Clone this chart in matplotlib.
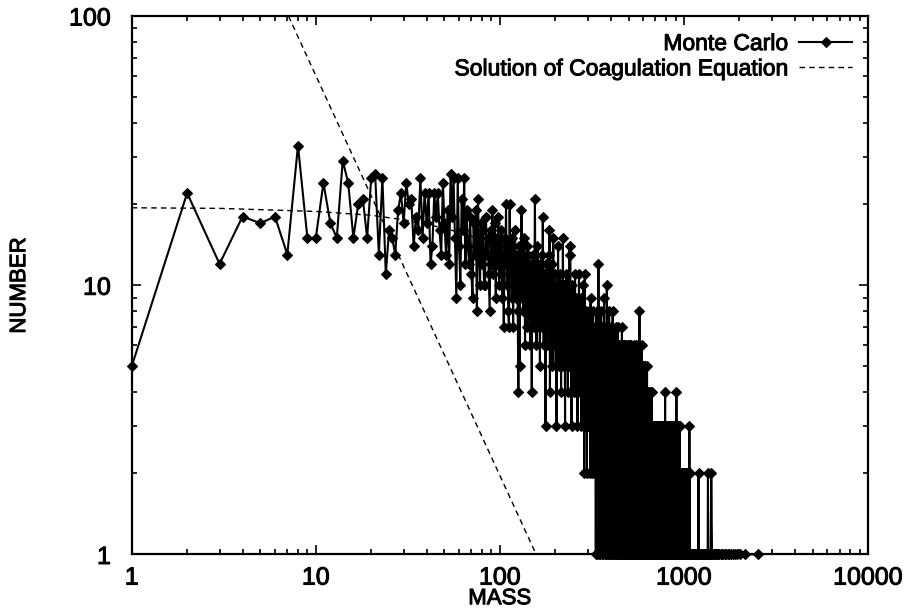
#!/usr/bin/env python3
"""
Mass spectrum of a Monte Carlo coagulation run against the
analytic solution of the coagulation equation (log-log).
"""

import numpy as np
import matplotlib
matplotlib.use('Agg')  # headless
import matplotlib.pyplot as plt
import matplotlib.ticker as ticker
import matplotlib.patheffects as pe

# Monte Carlo histogram: number of clusters for masses 1..390 (one entry per mass)
COUNTS_HEAD = [
    5, 22, 12, 18, 17, 18, 13, 33, 15, 15,
    24, 17, 15, 29, 24, 15, 20, 21, 15, 25,
    26, 13, 25, 11, 16, 15, 13, 19, 22, 17,
    24, 20, 21, 14, 18, 16, 25, 15, 22, 17,
    22, 12, 14, 22, 18, 22, 16, 13, 24, 17,
    13, 19, 12, 26, 18, 25, 15, 9, 25, 14,
    10, 21, 16, 25, 12, 19, 14, 12, 18, 11,
    9, 17, 13, 19, 8, 21, 14, 10, 17, 12,
    16, 10, 10, 18, 13, 15, 11, 8, 16, 12,
    19, 11, 14, 17, 9, 15, 12, 18, 10, 14,
    11, 16, 9, 13, 7, 15, 12, 20, 10, 14,
    8, 7, 20, 11, 13, 9, 15, 7, 12, 10,
    16, 9, 13, 11, 8, 4, 14, 5, 12, 10,
    19, 9, 13, 8, 15, 11, 6, 12, 9, 14,
    7, 11, 13, 8, 10, 6, 12, 9, 4, 11,
    8, 13, 7, 10, 21, 9, 12, 6, 10, 14,
    8, 11, 7, 9, 5, 12, 8, 10, 13, 7,
    18, 9, 6, 11, 8, 10, 3, 12, 7, 9,
    6, 11, 8, 13, 7, 16, 4, 9, 6, 10,
    8, 12, 5, 9, 15, 7, 10, 6, 8, 11,
    5, 9, 3, 7, 10, 6, 14, 8, 5, 9,
    7, 11, 6, 8, 4, 10, 7, 5, 9, 15,
    6, 8, 5, 10, 7, 3, 9, 6, 8, 11,
    5, 7, 9, 4, 8, 6, 10, 5, 14, 7,
    13, 6, 9, 4, 3, 8, 5, 10, 6, 7,
    9, 4, 6, 8, 5, 11, 7, 4, 9, 6,
    8, 5, 7, 3, 6, 9, 4, 7, 11, 5,
    8, 6, 4, 7, 9, 5, 3, 8, 6, 4,
    7, 5, 10, 6, 3, 8, 2, 4, 11, 6,
    7, 3, 5, 8, 4, 6, 2, 7, 5, 3,
    6, 4, 8, 5, 3, 7, 4, 6, 2, 5,
    9, 3, 6, 4, 7, 2, 5, 3, 6, 4,
    8, 3, 5, 2, 6, 4, 3, 7, 5, 2,
    4, 1, 6, 3, 8, 2, 5, 1, 7, 3,
    5, 2, 12, 4, 6, 1, 5, 3, 7, 2,
    4, 1, 6, 3, 8, 2, 5, 1, 4, 7,
    2, 5, 3, 1, 6, 4, 2, 9, 3, 5,
    1, 4, 2, 6, 3, 1, 5, 2, 7, 3,
    10, 2, 4, 1, 6, 3, 5, 1, 4, 2,
]

# masses 391..1400, one digit per mass, groups of ten; 0 = no cluster of that mass
TAIL_START = 391
TAIL_DIGITS = """
3816241372 6143725168 1352614253 1642713524 2615341726 1435162413 5216341527
2514361425 1362514236 4151326141 3524163526 1425314261 3152436142
5132414253 1426131524 2314516231 4132524136 1423152413 2481352142 3142531426 1352413215
3142513241 2314251324 1432413125 2314231423 1324132413
3213231432 1323213234 2131323213 3213132321 2313231312 3231312321 1323130213 2312313231
3132123103 2313213231 1321302312 3123132130 2313213021 3120313234 1302312130 2131203213
1302132031 3120213102 1302312013 2130213201 3021302130 1203120312 0213021302 1302103120
3120213021 0312031204 1302120310 2103120213 0120312021 3102102130
2120120212 1021201202 0120210120 2101202102 1202210120 1021021201 2010210120 0120102102
1201021020 2102010212 0210120122 1020120213
0101201010 1010010101 0100101001 1001010100 0101001010 1000101001 0100100101 0010100100
1001000101 0100100010 1000100100 0010010001 0100010002 1000100010 0010001000 1000010001
0001000100 0100001000 1000100001 0001000010 0100010000 1000001000 0010000100 0000100001
0001000010 0100000100 0001000001 0000100002 0000010000 1000000100 0000100000 0100000010
0000000100
"""

# sparse large clusters beyond mass 1400
FAR_MASS = [1407, 1421, 1438, 1452, 1469, 1490, 1512, 1530, 1557, 1581, 1604, 1633,
            1662, 1690, 1724, 1761, 1798, 1840, 1884, 1930, 2020, 2150, 2520]
FAR_COUNT = [2, 1, 1, 1, 1, 1, 1, 1, 1, 1, 1, 1,
             1, 1, 1, 1, 1, 1, 1, 1, 1, 1, 1]

# solution of the coagulation equation (two dashed curves)
SOL_MASS = [1, 3, 10, 20, 30, 50, 75, 100, 150, 200, 300, 400, 500, 700, 900]
SOL_NUMBER = [19.4, 19.3, 18.8, 18.2, 17.5, 16.3, 15.0, 13.6, 11.4, 9.6, 6.8, 4.8, 3.4, 1.7, 0.85]
POWER_MASS = [7.1, 157.5]
POWER_NUMBER = [100, 1]

XTICKS = [1, 10, 100, 1000, 10000]
XTICK_LABELS = ['1', '10', '100', '1000', '10000']
YTICKS = [1, 10, 100]
YTICK_LABELS = ['1', '10', '100']

# heavier strokes for the printed-looking lettering
INK = [pe.withStroke(linewidth=0.7, foreground='black')]


def monte_carlo_series():
    mass = list(range(1, len(COUNTS_HEAD) + 1))
    count = list(COUNTS_HEAD)
    digits = ''.join(TAIL_DIGITS.split())
    for i, ch in enumerate(digits):
        if ch != '0':
            mass.append(TAIL_START + i)
            count.append(int(ch))
    mass += FAR_MASS
    count += FAR_COUNT
    return np.array(mass), np.array(count)


def main():
    plt.rcParams['font.family'] = ['Liberation Sans', 'DejaVu Sans']
    fig = plt.figure(figsize=(9.06, 6.09), dpi=100)
    ax = fig.add_axes([0.1454, 0.0895, 0.8127, 0.8842])

    mass, count = monte_carlo_series()
    ax.plot(mass, count, color='black', linewidth=1.5, marker='D', markersize=5,
            markeredgewidth=0.8, label='Monte Carlo', clip_on=False, zorder=3)
    ax.plot(SOL_MASS, SOL_NUMBER, color='black', linewidth=1.0, linestyle=(0, (4, 3)),
            label='Solution of Coagulation Equation', zorder=4)
    ax.plot(POWER_MASS, POWER_NUMBER, color='black', linewidth=1.0, linestyle=(0, (4, 3)),
            zorder=4)

    ax.set_xscale('log')
    ax.set_yscale('log')
    ax.set_xlim(1, 10000)
    ax.set_ylim(1, 100)

    ax.set_xticks(XTICKS)
    ax.set_xticklabels(XTICK_LABELS)
    ax.set_yticks(YTICKS)
    ax.set_yticklabels(YTICK_LABELS)
    ax.xaxis.set_minor_locator(ticker.LogLocator(base=10, subs=range(2, 10)))
    ax.yaxis.set_minor_locator(ticker.LogLocator(base=10, subs=range(2, 10)))
    ax.xaxis.set_minor_formatter(ticker.NullFormatter())
    ax.yaxis.set_minor_formatter(ticker.NullFormatter())
    ax.tick_params(which='both', direction='in', top=True, right=True,
                   labelsize=18, width=1.2, colors='black')
    ax.tick_params(which='major', length=6.5)
    ax.tick_params(which='minor', length=3.5)
    ax.tick_params(axis='x', pad=8)
    ax.tick_params(axis='y', pad=15)
    for spine in ax.spines.values():
        spine.set_linewidth(1.6)

    ax.set_xlabel('MASS', fontsize=16, labelpad=-1)
    ax.set_ylabel('NUMBER', fontsize=16, labelpad=28)

    leg = ax.legend(loc='upper right', frameon=False, markerfirst=False, fontsize=16.5,
                    handlelength=2.3, numpoints=1, labelspacing=0.1,
                    borderaxespad=0.3, handletextpad=0.5)

    texts = ax.get_xticklabels() + ax.get_yticklabels() + leg.get_texts()
    texts += [ax.xaxis.label, ax.yaxis.label]
    for t in texts:
        t.set_path_effects(INK)

    fig.savefig('out.png', dpi=100)
    plt.close(fig)


if __name__ == '__main__':
    main()
